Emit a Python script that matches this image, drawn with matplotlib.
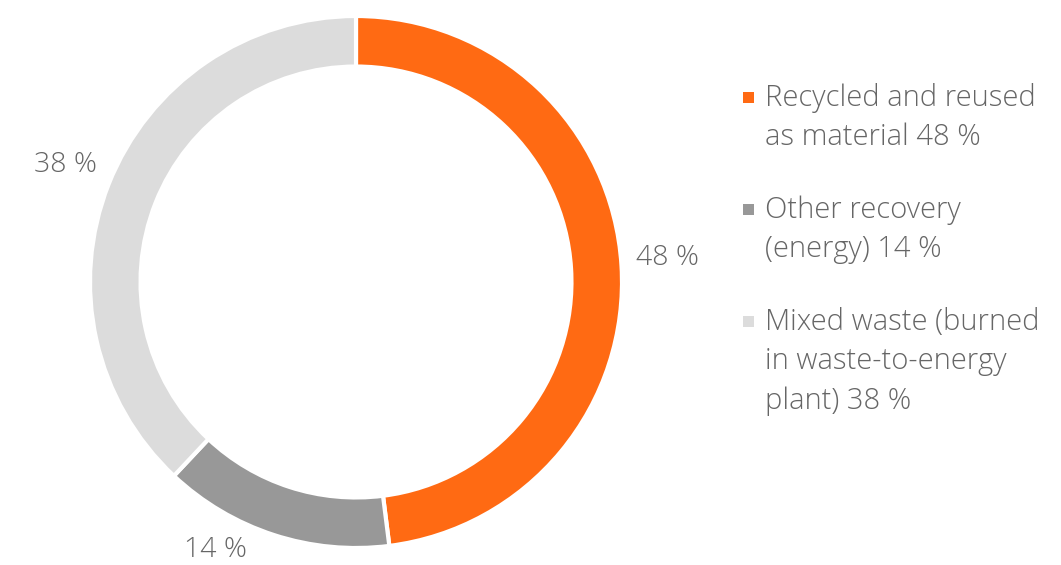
import matplotlib
matplotlib.use("Agg")
import matplotlib.pyplot as plt
from matplotlib.patches import Rectangle

categories = ["Recycled and reused\nas material 48 %",
              "Other recovery\n(energy) 14 %",
              "Mixed waste (burned\nin waste-to-energy\nplant) 38 %"]
values = [48, 14, 38]
pct_labels = ["48 %", "14 %", "38 %"]
colors = ["#FF6A13", "#989898", "#DCDCDC"]

plt.rcParams['font.family'] = ['Open Sans', 'DejaVu Sans']
text_color = "#666666"

W, H = 1061, 565
fig = plt.figure(figsize=(W / 100, H / 100), dpi=100)
cx, cy, r = 356, 282, 266
ax = fig.add_axes([(cx - r) / W, (H - cy - r) / H, 2 * r / W, 2 * r / H])
wedges, _ = ax.pie(values, colors=colors, startangle=90, counterclock=False,
                   radius=1.0,
                   wedgeprops=dict(width=0.19, edgecolor="white", linewidth=3))
ax.set_xlim(-1, 1)
ax.set_ylim(-1, 1)
ax.set_aspect("equal")
ax.axis("off")

# percentage labels outside the ring
label_pos = [(668, 258), (215, 550), (65, 165)]
for (px, py), t in zip(label_pos, pct_labels):
    fig.text(px / W, 1 - py / H, t, ha="center", va="center",
             fontsize=20.5, color=text_color, fontweight="light")

# legend
leg_top = [98, 210, 322]
line_h = 39.5
for y0, cat, col in zip(leg_top, categories, colors):
    fig.patches.append(Rectangle(((743) / W, 1 - (y0 + 5) / H), 11 / W, 11 / H,
                                 transform=fig.transFigure, facecolor=col,
                                 edgecolor="none"))
    for i, line in enumerate(cat.split("\n")):
        fig.text(765 / W, 1 - (y0 + i * line_h) / H, line, ha="left",
                 va="center", fontsize=21, color=text_color, fontweight="light")

fig.savefig("out.png", dpi=100, facecolor="white")
